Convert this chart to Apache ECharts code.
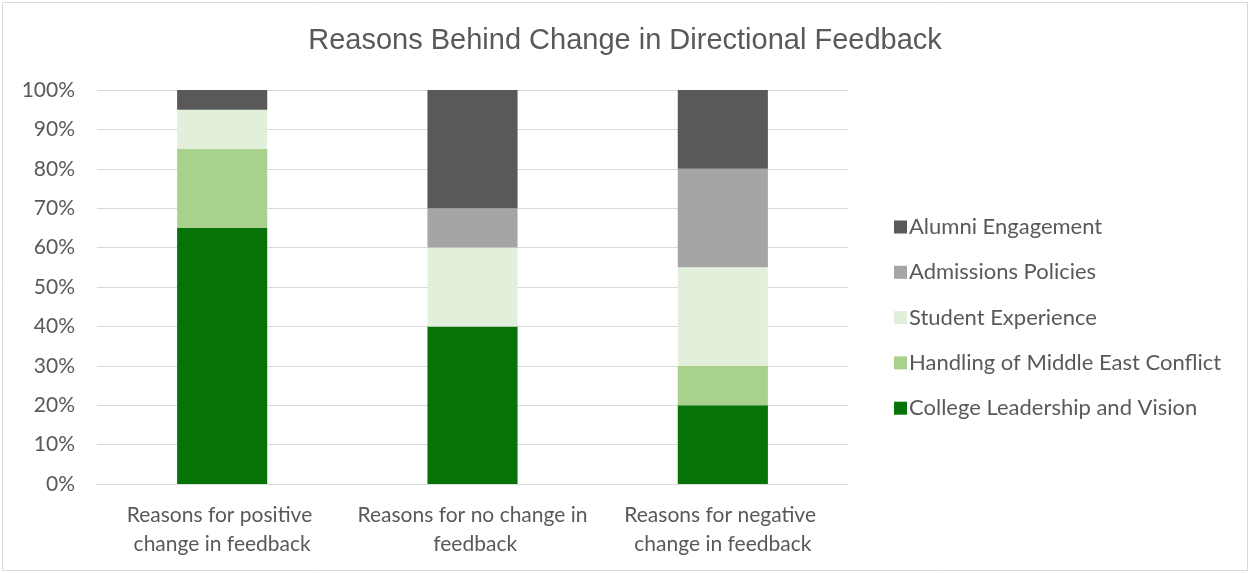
<!DOCTYPE html>
<html>
<head>
<meta charset="utf-8">
<script src="https://cdn.jsdelivr.net/npm/echarts@6/dist/echarts.min.js"></script>
<style>
  html, body { margin: 0; padding: 0; background: #fff; }
  #chart { width: 1250px; height: 573px; }
</style>
</head>
<body>
<div id="chart"></div>
<script>
// Categories along the x axis
const categories = [
  'Reasons for positive change in feedback',
  'Reasons for no change in feedback',
  'Reasons for negative change in feedback'
];

// Share of each reason (percent), one value per category
const leadership = [65, 40, 20];
const middleEast = [20, 0, 10];
const studentExperience = [10, 20, 25];
const admissions = [0, 10, 25];
const alumni = [5, 30, 20];

const seriesNames = [
  'College Leadership and Vision',
  'Handling of Middle East Conflict',
  'Student Experience',
  'Admissions Policies',
  'Alumni Engagement'
];
const seriesValues = [leadership, middleEast, studentExperience, admissions, alumni];
const seriesColors = ['#077207', '#a9d18e', '#e2efda', '#a5a5a5', '#595959'];

const textColor = '#595959';
const fontFamily = 'Lato, "Noto Sans", sans-serif';

const chart = echarts.init(document.getElementById('chart'), null, { renderer: 'canvas' });

chart.setOption({
  animation: false,
  backgroundColor: '#ffffff',
  title: {
    text: 'Reasons Behind Change in Directional Feedback',
    left: 'center',
    top: 21,
    textStyle: {
      color: textColor,
      fontFamily: '"Liberation Sans", Arial, sans-serif',
      fontWeight: 'normal',
      fontSize: 29
    }
  },
  graphic: [{
    type: 'rect',
    shape: { x: 2.5, y: 2.5, width: 1245, height: 568 },
    style: { fill: 'none', stroke: '#d9d9d9', lineWidth: 1 },
    silent: true
  }],
  legend: {
    orient: 'vertical',
    left: 889,
    top: 211,
    itemGap: 23.3,
    itemWidth: 13,
    itemHeight: 13,
    icon: 'rect',
    data: seriesNames.slice().reverse(),
    textStyle: { color: textColor, fontFamily: fontFamily, fontSize: 22, padding: [0, 0, 0, -3] }
  },
  grid: {
    left: 97,
    right: 402,
    top: 90,
    bottom: 89,
    containLabel: false
  },
  xAxis: {
    type: 'category',
    data: categories,
    axisTick: { show: false },
    axisLine: { lineStyle: { color: '#d9d9d9', width: 1 } },
    axisLabel: {
      color: textColor,
      fontFamily: fontFamily,
      fontSize: 21,
      lineHeight: 29,
      margin: 17,
      width: 235,
      overflow: 'break',
      interval: 0
    }
  },
  yAxis: {
    type: 'value',
    min: 0,
    max: 100,
    interval: 10,
    axisLine: { show: false },
    axisTick: { show: false },
    splitLine: { lineStyle: { color: '#d9d9d9', width: 1 } },
    axisLabel: {
      color: textColor,
      fontFamily: fontFamily,
      fontSize: 21,
      margin: 22,
      formatter: '{value}%'
    }
  },
  series: seriesNames.map((name, i) => ({
    name: name,
    type: 'bar',
    stack: 'total',
    barWidth: '36%',
    data: seriesValues[i],
    itemStyle: { color: seriesColors[i] },
    emphasis: { disabled: true }
  }))
});
</script>
</body>
</html>
